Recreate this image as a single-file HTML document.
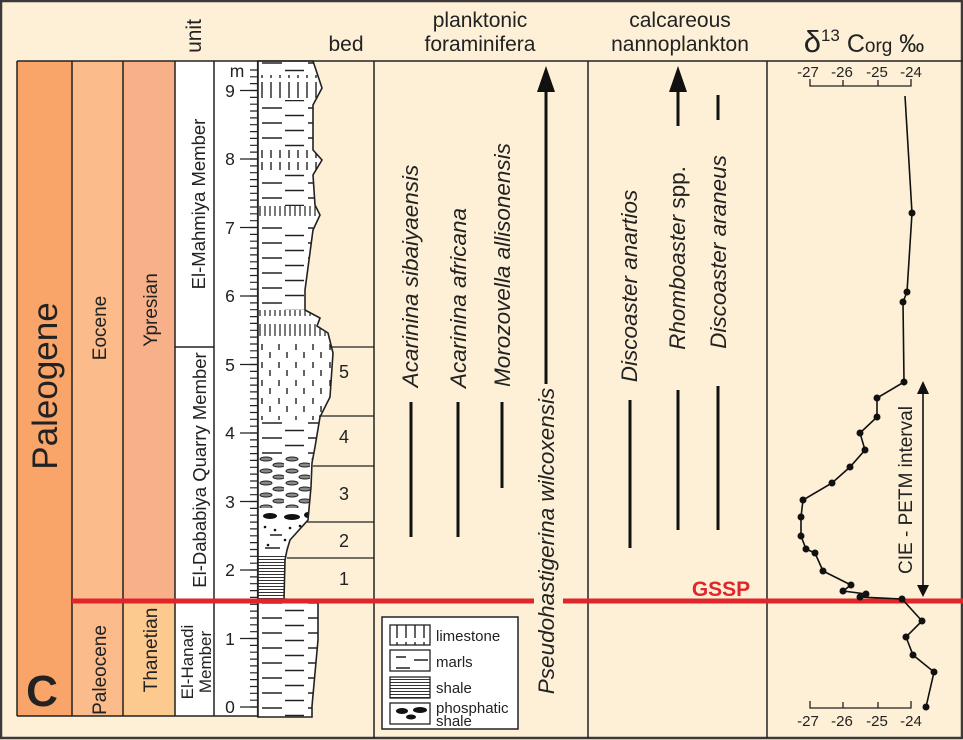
<!DOCTYPE html>
<html><head><meta charset="utf-8"><style>
html,body{margin:0;padding:0;background:#fdf0d6;}
svg{display:block;font-family:"Liberation Sans",Arial,sans-serif;}
</style></head><body>
<svg width="963" height="740" viewBox="0 0 963 740" xmlns="http://www.w3.org/2000/svg">
<defs>
<pattern id="marl" x="258" y="0" width="46" height="15" patternUnits="userSpaceOnUse">
<rect width="46" height="15" fill="#fff"/>
<line x1="4" y1="3" x2="24" y2="3" stroke="#222" stroke-width="1.6"/>
<line x1="27" y1="10.5" x2="47" y2="10.5" stroke="#222" stroke-width="1.6"/>
</pattern>
<pattern id="lime" x="258" y="0" width="9" height="20" patternUnits="userSpaceOnUse">
<rect width="9" height="20" fill="#fff"/>
<line x1="4" y1="2" x2="4" y2="18" stroke="#222" stroke-width="1.4"/>
</pattern>
<pattern id="flime" x="258" y="0" width="5" height="20" patternUnits="userSpaceOnUse">
<rect width="5" height="20" fill="#fff"/>
<line x1="2" y1="4" x2="2" y2="16" stroke="#222" stroke-width="1.2"/>
</pattern>
<pattern id="silt" x="258" y="0" width="17" height="18" patternUnits="userSpaceOnUse">
<rect width="17" height="18" fill="#fff"/>
<line x1="4" y1="2" x2="4" y2="8" stroke="#222" stroke-width="1.4"/>
<line x1="12" y1="10" x2="12" y2="16" stroke="#222" stroke-width="1.4"/>
</pattern>
<pattern id="nod" x="258" y="0" width="26" height="12" patternUnits="userSpaceOnUse">
<rect width="26" height="12" fill="#fff"/>
<ellipse cx="8" cy="3" rx="6" ry="2" fill="#888" stroke="#222" stroke-width="1"/>
<ellipse cx="21" cy="9" rx="6" ry="2" fill="#888" stroke="#222" stroke-width="1"/>
</pattern>
<pattern id="shale" x="0" y="0" width="10" height="3" patternUnits="userSpaceOnUse">
<rect width="10" height="3" fill="#fff"/>
<line x1="0" y1="1.5" x2="10" y2="1.5" stroke="#333" stroke-width="1"/>
</pattern>
<clipPath id="lith"><polygon points="258,61 313,61 316,70 322,88 313,105 313,150 322,160 313,175 315,205 320,215 313,230 305,290 305,310 320,318 317,326 328,333 333,353 330,397 320,417 315,447 312,463 311,487 308,520 290,540 287,550 285,560 284,599 318,601 318,640 312,706 312,717 258,717"/></clipPath>
</defs>

<rect x="1" y="1" width="961" height="737" fill="#fdf0d6" stroke="#3a3a3a" stroke-width="2.5"/>

<rect x="17" y="61" width="55" height="655" fill="#f9a468"/>
<rect x="72" y="61" width="51" height="655" fill="#fbbb8a"/>
<rect x="123" y="61" width="52" height="540" fill="#f8b088"/>
<rect x="123" y="601" width="52" height="115" fill="#fcc98f"/>
<rect x="175" y="61" width="83" height="655" fill="#fff"/>
<g stroke="#222" stroke-width="1.5" fill="none">
<line x1="17" y1="61" x2="17" y2="716"/>
<line x1="72" y1="61" x2="72" y2="716"/>
<line x1="123" y1="61" x2="123" y2="716"/>
<line x1="175" y1="61" x2="175" y2="716"/>
<line x1="214" y1="61" x2="214" y2="716"/>
<line x1="175" y1="347" x2="214" y2="347"/>
<line x1="17" y1="716" x2="258" y2="716"/>
</g>

<g clip-path="url(#lith)">
<rect x="258" y="61" width="80" height="14" fill="url(#marl)"/>
<rect x="258" y="75" width="80" height="25" fill="url(#lime)"/>
<rect x="258" y="100" width="80" height="50" fill="url(#marl)"/>
<rect x="258" y="150" width="80" height="20" fill="url(#lime)"/>
<rect x="258" y="170" width="80" height="36" fill="url(#marl)"/>
<rect x="258" y="206" width="80" height="16" fill="url(#flime)"/>
<rect x="258" y="222" width="80" height="88" fill="url(#marl)"/>
<rect x="258" y="310" width="80" height="30" fill="url(#flime)"/>
<rect x="258" y="340" width="80" height="80" fill="url(#silt)"/>
<rect x="258" y="420" width="80" height="36" fill="url(#marl)"/>
<rect x="258" y="456" width="80" height="52" fill="url(#nod)"/>
<rect x="258" y="508" width="80" height="48" fill="#fff"/>
<rect x="258" y="556" width="80" height="45" fill="url(#shale)"/>
<rect x="258" y="601" width="80" height="116" fill="url(#marl)"/>
<g fill="#111">
<ellipse cx="270" cy="516" rx="7" ry="3"/><ellipse cx="292" cy="517" rx="8" ry="3"/><ellipse cx="308" cy="515" rx="4" ry="3"/>
<circle cx="265" cy="527" r="1.3"/><circle cx="275" cy="530" r="1.3"/><circle cx="290" cy="528" r="1.3"/><circle cx="300" cy="526" r="1.3"/>
<circle cx="268" cy="545" r="1.3"/><circle cx="285" cy="540" r="1.3"/>
</g>
<g stroke="#222" stroke-width="1.4">
<line x1="265" y1="548" x2="280" y2="548"/><line x1="270" y1="535" x2="282" y2="535"/>
</g>
</g>
<polygon points="258,61 313,61 316,70 322,88 313,105 313,150 322,160 313,175 315,205 320,215 313,230 305,290 305,310 320,318 317,326 328,333 333,353 330,397 320,417 315,447 312,463 311,487 308,520 290,540 287,550 285,560 284,599 318,601 318,640 312,706 312,717 258,717" fill="none" stroke="#222" stroke-width="1.6"/>

<g stroke="#222" stroke-width="1.3">
<line x1="330" y1="347" x2="374" y2="347"/>
<line x1="319" y1="416" x2="374" y2="416"/>
<line x1="313" y1="466" x2="374" y2="466"/>
<line x1="307" y1="522" x2="374" y2="522"/>
<line x1="287" y1="558" x2="374" y2="558"/>
</g>
<g font-size="18" fill="#222" text-anchor="middle">
<text x="344" y="378">5</text><text x="344" y="443">4</text><text x="344" y="500">3</text><text x="344" y="547">2</text><text x="344" y="585">1</text>
</g>

<g stroke="#222" stroke-width="1.2">
<line x1="257.5" y1="61" x2="257.5" y2="717"/>
<path d="M250 90.5h8M250 97.4h8M250 104.2h8M250 111h8M250 117.9h8M250 124.7h8M250 131.6h8M250 138.4h8M250 145.3h8M250 152.1h8M250 159h8M250 165.9h8M250 172.7h8M250 179.6h8M250 186.4h8M250 193.3h8M250 200.1h8M250 207h8M250 213.8h8M250 220.7h8M250 227.5h8M250 234.4h8M250 241.2h8M250 248.1h8M250 254.9h8M250 261.8h8M250 268.6h8M250 275.5h8M250 282.3h8M250 289.2h8M250 296h8M250 302.9h8M250 309.7h8M250 316.6h8M250 323.4h8M250 330.3h8M250 337.1h8M250 344h8M250 350.8h8M250 357.7h8M250 364.5h8M250 371.4h8M250 378.2h8M250 385.1h8M250 391.9h8M250 398.8h8M250 405.6h8M250 412.5h8M250 419.3h8M250 426.2h8M250 433h8M250 439.9h8M250 446.7h8M250 453.6h8M250 460.4h8M250 467.3h8M250 474.1h8M250 481h8M250 487.8h8M250 494.7h8M250 501.5h8M250 508.4h8M250 515.2h8M250 522.1h8M250 528.9h8M250 535.8h8M250 542.6h8M250 549.5h8M250 556.3h8M250 563.2h8M250 570h8M250 576.9h8M250 583.7h8M250 590.6h8M250 597.4h8M250 604.3h8M250 611.1h8M250 618h8M250 624.8h8M250 631.7h8M250 638.5h8M250 645.4h8M250 652.2h8M250 659.1h8M250 665.9h8M250 672.8h8M250 679.6h8M250 686.5h8M250 693.3h8M250 700.2h8M250 707h8M250 83.6h8M250 76.8h8M250 70h8"/>
<path d="M240 707h18M240 638.5h18M240 570h18M240 501.5h18M240 433h18M240 364.5h18M240 296h18M240 227.5h18M240 159h18M240 90.5h18"/>
</g>
<g font-size="17.5" fill="#222" text-anchor="middle">
<text x="230" y="713">0</text><text x="230" y="645">1</text><text x="230" y="576">2</text><text x="230" y="508">3</text><text x="230" y="439">4</text><text x="230" y="371">5</text><text x="230" y="302">6</text><text x="230" y="234">7</text><text x="230" y="165">8</text><text x="230" y="97">9</text><text x="237" y="77">m</text>
</g>

<text transform="translate(57,386) rotate(-90)" font-size="35" text-anchor="middle" fill="#222">Paleogene</text>
<text x="42" y="706" font-size="44" font-weight="bold" text-anchor="middle" fill="#222">C</text>
<g font-size="19" fill="#222" text-anchor="middle">
<text transform="translate(106,328) rotate(-90)">Eocene</text>
<text transform="translate(106,670) rotate(-90)">Paleocene</text>
<text transform="translate(157,310) rotate(-90)">Ypresian</text>
<text transform="translate(157,650) rotate(-90)">Thanetian</text>
</g>
<g font-size="18.5" fill="#222" text-anchor="middle">
<text transform="translate(205,204) rotate(-90)">El-Mahmiya Member</text>
<text transform="translate(206,470) rotate(-90)">El-Dababiya Quarry Member</text>
</g>
<g font-size="17" fill="#222" text-anchor="middle">
<text transform="translate(193,662) rotate(-90)">El-Hanadi</text>
<text transform="translate(211,662) rotate(-90)">Member</text>
</g>

<line x1="17" y1="61" x2="963" y2="61" stroke="#222" stroke-width="1.5"/>
<g font-size="21" fill="#222" text-anchor="middle">
<text transform="translate(201,36) rotate(-90)">unit</text>
<text x="346" y="51">bed</text>
<text x="480" y="27">planktonic</text>
<text x="480" y="51">foraminifera</text>
<text x="680" y="27">calcareous</text>
<text x="680" y="51">nannoplankton</text>
<text x="864" y="52" font-size="25"><tspan font-size="31">δ</tspan><tspan font-size="17" dy="-11">13</tspan><tspan dy="11"> C</tspan><tspan font-size="19">org</tspan> ‰</text>
</g>

<g stroke="#222" stroke-width="1.5">
<line x1="374" y1="61" x2="374" y2="738"/>
<line x1="588" y1="61" x2="588" y2="738"/>
<line x1="767" y1="61" x2="767" y2="738"/>
</g>

<g stroke="#111" stroke-width="3">
<line x1="411" y1="402" x2="411" y2="537"/>
<line x1="458" y1="402" x2="458" y2="537"/>
<line x1="502" y1="402" x2="502" y2="488"/>
<line x1="546" y1="88" x2="546" y2="384"/>
<line x1="630" y1="400" x2="630" y2="548"/>
<line x1="678" y1="88" x2="678" y2="126"/>
<line x1="678" y1="390" x2="678" y2="530"/>
<line x1="718" y1="95" x2="718" y2="120"/>
<line x1="718" y1="386" x2="718" y2="530"/>
</g>
<polygon points="546,66 537,92 555,92" fill="#111"/>
<polygon points="678,66 669,92 687,92" fill="#111"/>
<g font-size="22.5" font-style="italic" fill="#222" text-anchor="middle">
<text transform="translate(418,276) rotate(-90)">Acarinina sibaiyaensis</text>
<text transform="translate(466,298) rotate(-90)">Acarinina africana</text>
<text transform="translate(510,265) rotate(-90)">Morozovella allisonensis</text>
<text transform="translate(554,541) rotate(-90)">Pseudohastigerina wilcoxensis</text>
<text transform="translate(637,286) rotate(-90)">Discoaster anartios</text>
<text transform="translate(685,258) rotate(-90)">Rhomboaster <tspan font-style="normal">spp.</tspan></text>
<text transform="translate(726,252) rotate(-90)">Discoaster araneus</text>
</g>

<rect x="382" y="617" width="136" height="112" fill="#fff" stroke="#222" stroke-width="1.5"/>
<rect x="390" y="625" width="40" height="20" fill="url(#lime)" stroke="#222" stroke-width="1.3"/>
<rect x="390" y="650" width="40" height="21" fill="#fff" stroke="#222" stroke-width="1.3"/>
<path d="M396 657h10M414 660h14M396 668h14" stroke="#222" stroke-width="1.4"/>
<rect x="390" y="677" width="40" height="21" fill="url(#shale)" stroke="#222" stroke-width="1.3"/>
<rect x="390" y="703" width="40" height="21" fill="#fff" stroke="#222" stroke-width="1.3"/>
<g fill="#111"><ellipse cx="402" cy="711" rx="6" ry="3"/><ellipse cx="420" cy="710" rx="7" ry="3"/><ellipse cx="411" cy="717" rx="5" ry="2.5"/></g>
<g font-size="15" fill="#222">
<text x="436" y="641">limestone</text>
<text x="436" y="667">marls</text>
<text x="436" y="693">shale</text>
<text x="436" y="713">phosphatic</text>
<text x="436" y="726">shale</text>
</g>

<g stroke="#e0262b" stroke-width="5">
<line x1="72" y1="601" x2="534" y2="601"/>
<line x1="563" y1="601" x2="963" y2="601"/>
</g>
<text x="721" y="596" font-size="21" font-weight="bold" fill="#e0262b" text-anchor="middle">GSSP</text>

<g stroke="#222" stroke-width="1.3" fill="none">
<path d="M810 79v7h101v-7M843 80v6M878 80v6"/>
<path d="M810 701v7h101v-7M843 702v6M878 702v6"/>
</g>
<g font-size="15" fill="#222" text-anchor="middle">
<text x="808" y="77">-27</text><text x="842" y="77">-26</text><text x="877" y="77">-25</text><text x="911" y="77">-24</text>
<text x="808" y="726">-27</text><text x="842" y="726">-26</text><text x="877" y="726">-25</text><text x="911" y="726">-24</text>
</g>
<polyline points="905,96 912,213 907,292 903,302 904,382 877,398 877,417 860,433 865,450 850,467 832,483 803,500 801,517 801,536 806,549 815,553 823,571 851,585 843,591 866,594 860,597 902,599 922,621 906,637 913,655 934,672 926,707" fill="none" stroke="#111" stroke-width="1.6"/>
<g fill="#111">
<circle cx="912" cy="213" r="3.5"/><circle cx="907" cy="292" r="3.5"/><circle cx="903" cy="302" r="3.5"/><circle cx="904" cy="382" r="3.5"/><circle cx="877" cy="398" r="3.5"/><circle cx="877" cy="417" r="3.5"/><circle cx="860" cy="433" r="3.5"/><circle cx="865" cy="450" r="3.5"/><circle cx="850" cy="467" r="3.5"/><circle cx="832" cy="483" r="3.5"/><circle cx="803" cy="500" r="3.5"/><circle cx="801" cy="517" r="3.5"/><circle cx="801" cy="536" r="3.5"/><circle cx="806" cy="549" r="3.5"/><circle cx="815" cy="553" r="3.5"/><circle cx="823" cy="571" r="3.5"/><circle cx="851" cy="585" r="3.5"/><circle cx="843" cy="591" r="3.5"/><circle cx="866" cy="594" r="3.5"/><circle cx="860" cy="597" r="3.5"/><circle cx="902" cy="599" r="3.5"/><circle cx="922" cy="621" r="3.5"/><circle cx="906" cy="637" r="3.5"/><circle cx="913" cy="655" r="3.5"/><circle cx="934" cy="672" r="3.5"/><circle cx="926" cy="707" r="3.5"/>
</g>

<line x1="923" y1="392" x2="923" y2="588" stroke="#111" stroke-width="1.6"/>
<polygon points="923,381 917,394 929,394" fill="#111"/>
<polygon points="923,597 917,585 929,585" fill="#111"/>
<text transform="translate(912,490) rotate(-90)" font-size="19" fill="#222" text-anchor="middle">CIE - PETM interval</text>
</svg>
</body></html>
